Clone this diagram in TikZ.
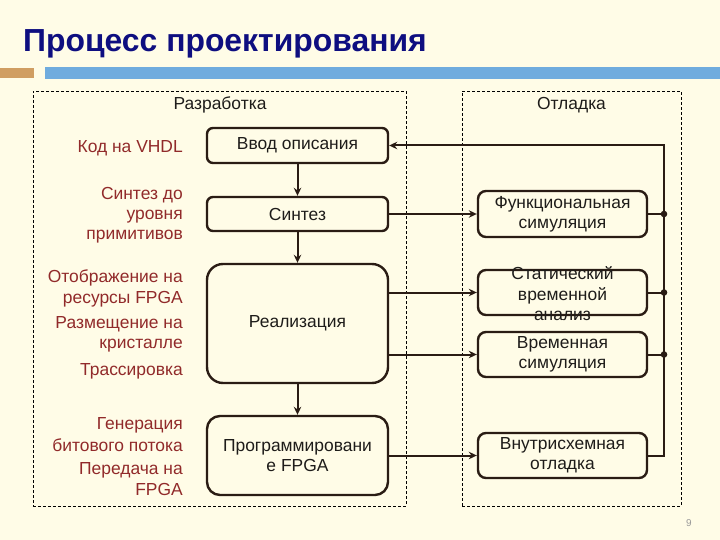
\documentclass[tikz,border=0pt]{standalone}
\usepackage{fontspec}
\setmainfont{Liberation Sans}
\usetikzlibrary{arrows.meta}
\definecolor{bg}{RGB}{255,252,231}
\definecolor{navy}{RGB}{14,14,128}
\definecolor{tanbar}{RGB}{208,158,98}
\definecolor{skybar}{RGB}{112,172,222}
\definecolor{ink}{RGB}{42,28,20}
\definecolor{redlbl}{RGB}{145,42,42}
\definecolor{txt}{RGB}{30,28,26}
\begin{document}
\begin{tikzpicture}[x=1bp,y=-1bp,
  box/.style={draw=ink, line width=2.4bp, rounded corners=6bp, inner sep=0pt,
    text=txt, align=center, font=\fontsize{17.5}{20.5}\selectfont},
  plain/.style={inner sep=0pt, text=txt, align=center, font=\fontsize{17.5}{20.5}\selectfont},
  lbl/.style={anchor=base east, inner sep=0pt, text=redlbl, font=\fontsize{17.5}{20.5}\selectfont},
  frame/.style={draw=black, line width=0.8bp, dash pattern=on 3bp off 2bp, inner sep=0pt},
  link/.style={draw=ink, line width=2bp},
  conn/.style={draw=ink, line width=2bp, -{Stealth[length=8bp,width=7.5bp]}},
  dotmark/.style={fill=ink}]
\fill[bg] (0,0) rectangle (720,540);
\useasboundingbox (0,0) rectangle (720,540);

% title and bars
\node[anchor=base west, inner sep=0pt, text=navy, font=\fontsize{32}{36}\selectfont\bfseries] (title) at (23,52) {Процесс проектирования};
\fill[tanbar] (0,68) rectangle (34,78);
\fill[skybar] (45,67) rectangle (720,79);

% frames
\node[frame, minimum width=373bp, minimum height=415bp] (devframe) at (219.5,298.5) {};
\node[frame, minimum width=219bp, minimum height=415bp] (dbgframe) at (571.5,298.5) {};
\node[plain, anchor=base] (devtitle) at (220,110) {Разработка};
\node[plain, anchor=base] (dbgtitle) at (571.5,110) {Отладка};

% left column boxes
\node[box, minimum width=181bp, minimum height=35bp] (vvod) at (297.5,145.5) {Ввод описания};
\node[box, minimum width=181bp, minimum height=34bp] (sint) at (297.5,214) {Синтез};
\node[box, rounded corners=16bp, minimum width=181bp, minimum height=119bp] (real) at (297.5,323.5) {Реализация};
\node[box, rounded corners=13bp, minimum width=181bp, minimum height=79bp] (prog) at (297.5,455.5) {Программировани\\е FPGA};

% right column boxes
\node[box, rounded corners=8bp, minimum width=169bp, minimum height=46bp] (func) at (562.5,214) {Функциональная\\симуляция};
\node[box, rounded corners=8bp, minimum width=169bp, minimum height=45bp] (stat) at (562.5,292.5) {};
\node[plain] (stattxt) at (562.5,294) {Статический\\временной\\анализ};
\node[box, rounded corners=8bp, minimum width=169bp, minimum height=45bp] (vrem) at (562.5,354.5) {Временная\\симуляция};
\node[box, rounded corners=8bp, minimum width=169bp, minimum height=45bp] (vnutr) at (562.5,455.5) {Внутрисхемная\\отладка};

% left labels
\node[lbl] (l1) at (183,153) {Код на VHDL};
\node[lbl] (l2a) at (183,200) {Синтез до};
\node[lbl] (l2b) at (183,220) {уровня};
\node[lbl] (l2c) at (183,240) {примитивов};
\node[lbl] (l3a) at (183,283) {Отображение на};
\node[lbl] (l3b) at (183,303) {ресурсы FPGA};
\node[lbl] (l4a) at (183,328) {Размещение на};
\node[lbl] (l4b) at (183,348) {кристалле};
\node[lbl] (l5) at (183,375) {Трассировка};
\node[lbl] (l6a) at (183,429) {Генерация};
\node[lbl] (l6b) at (183,451) {битового потока};
\node[lbl] (l7a) at (183,474) {Передача на};
\node[lbl] (l7b) at (183,495) {FPGA};

% connectors
\coordinate (fb) at (664,300);
\draw[conn] (vvod) -- (sint);
\draw[conn] (sint) -- (real);
\draw[conn] (real) -- (prog);
\draw[conn] (sint.east) -- (func.west);
\draw[conn] (stat.west -| real.east) -- (stat.west);
\draw[conn] (vrem.west -| real.east) -- (vrem.west);
\draw[conn] (prog.east) -- (vnutr.west);
\draw[link] (func.east) -- (func.east -| fb);
\draw[link] (stat.east) -- (stat.east -| fb);
\draw[link] (vrem.east) -- (vrem.east -| fb);
\draw[conn] (vnutr.east) -- (vnutr.east -| fb) -- (fb |- vvod.east) -- (vvod.east);
\fill[dotmark] (func.east -| fb) circle (3.3bp);
\fill[dotmark] (stat.east -| fb) circle (3.3bp);
\fill[dotmark] (vrem.east -| fb) circle (3.3bp);

% page number
\node[inner sep=0pt, text=black!40, font=\fontsize{10}{12}\selectfont] (pg) at (689,523) {9};
\end{tikzpicture}
\end{document}
